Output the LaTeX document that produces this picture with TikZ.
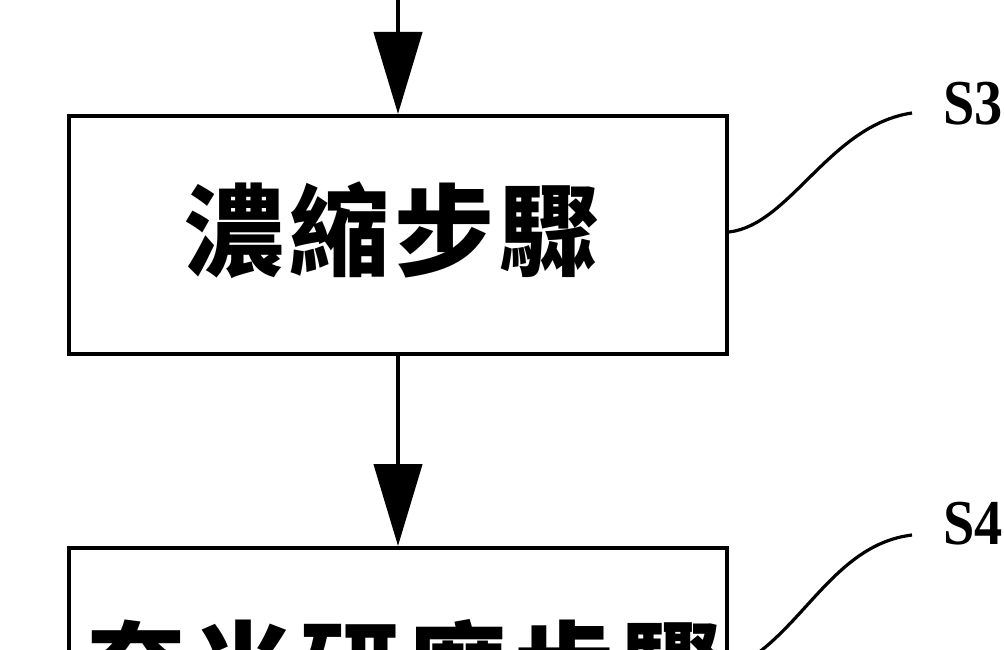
\documentclass[tikz,border=0pt]{standalone}
\usepackage{fontspec}
\setmainfont{Liberation Serif}
\newfontfamily\cjk{Noto Sans CJK TC}
\usetikzlibrary{arrows.meta}
\begin{document}
\begin{tikzpicture}[x=1pt,y=-1pt,
  stepbox/.style={draw,line width=4pt,minimum width=658pt,inner sep=0pt},
  flow/.style={line width=4.5pt,-{Triangle[length=82pt,width=48pt]}},
  leader/.style={line width=3.2pt},
  steplabel/.style={font=\fontsize{64}{64}\selectfont\bfseries,anchor=west,inner sep=0pt},
  cjktext/.style={font=\cjk\bfseries\fontsize{100}{100}\selectfont,inner sep=0pt}]
\useasboundingbox (0,0) rectangle (1004,650);
\clip (0,0) rectangle (1004,650);
\node[stepbox,minimum height=238pt] (box1) at (398,235) {};
\node[stepbox,minimum height=244pt] (box2) at (398,670) {};
\node[cjktext] (t1) at (392,230) {濃\hspace{5pt}縮\hspace{5pt}步\hspace{5pt}驟};
\node[cjktext] (t2) at (404,668) {奈\hspace{7pt}米\hspace{7pt}研\hspace{7pt}磨\hspace{7pt}步\hspace{7pt}驟};
\coordinate (top) at (398,-5);
\draw[flow] (top) -- (box1.north);
\draw[flow] (box1.south) -- (box2.north);
\node[steplabel] (s3) at (943,104) {\scalebox{0.88}[1]{S3}};
\node[steplabel] (s4) at (943,524) {\scalebox{0.88}[1]{S4}};
\coordinate (e3) at (912,113);
\coordinate (e4) at (912,535);
\draw[leader] ([yshift=3pt]box1.east) .. controls (790,225) and (830,125) .. (e3);
\draw[leader] (box2.east) .. controls (800,640) and (830,545) .. (e4);
\end{tikzpicture}
\end{document}
